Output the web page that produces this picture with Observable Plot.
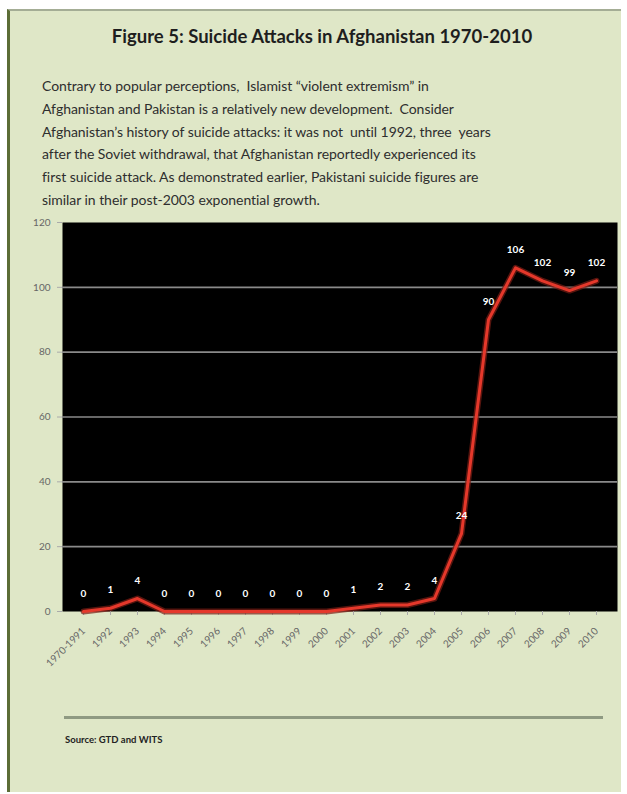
<!DOCTYPE html>
<html>
<head>
<meta charset="utf-8">
<script src="https://cdn.jsdelivr.net/npm/d3@7"></script>
<script src="https://cdn.jsdelivr.net/npm/@observablehq/plot@0.6"></script>
<style>
  html, body { margin: 0; padding: 0; background: #ffffff; }
  #page { position: relative; width: 627px; height: 794px; overflow: hidden; font-family: Lato, "Open Sans", sans-serif; }
  #box { position: absolute; left: 7px; top: 9px; width: 614px; height: 783px; background: #dfe7c7;
         border-left: 3px solid #5c6d36; border-top: 2px solid #a4ad95; box-sizing: border-box; }
  #title { position: absolute; left: 0; top: 25px; width: 644px; text-align: center; font-weight: bold;
           font-size: 18.5px; color: #1e1e1e; letter-spacing: 0px; }
  #para { position: absolute; left: 42px; top: 75px; width: 560px; font-size: 14px; line-height: 22.8px; color: #2e2e2e; letter-spacing: -0.05px; }
  #chart { position: absolute; left: 0; top: 205px; }
  #rule { position: absolute; left: 64px; top: 716px; width: 539px; height: 3px; background: #8f9a82; }
  #source { position: absolute; left: 65px; top: 734px; font-size: 9.5px; font-weight: bold; color: #222; }
</style>
</head>
<body>
<div id="page">
  <div id="box"></div>
  <div id="title">Figure 5: Suicide Attacks in Afghanistan 1970-2010</div>
  <div id="para">Contrary to popular perceptions,&nbsp; Islamist “violent extremism” in<br>Afghanistan and Pakistan is a relatively new development.&nbsp; Consider<br>Afghanistan’s history of suicide attacks: it was not&nbsp; until 1992, three&nbsp; years<br>after the Soviet withdrawal, that Afghanistan reportedly experienced its<br>first suicide attack. As demonstrated earlier, Pakistani suicide figures are<br>similar in their post-2003 exponential growth.</div>
  <div id="chart"></div>
  <div id="rule"></div>
  <div id="source">Source: GTD and WITS</div>
</div>
<script>
const years = ["1970-1991","1992","1993","1994","1995","1996","1997","1998","1999","2000",
               "2001","2002","2003","2004","2005","2006","2007","2008","2009","2010"];
const attacks = [0,1,4,0,0,0,0,0,0,0,1,2,2,4,24,90,106,102,99,102];
const yTicks = [0,20,40,60,80,100,120];
const gridValues = [20,40,60,80,100];

const data = years.map((y, i) => ({year: y, value: attacks[i]}));

const chart = Plot.plot({
  width: 627,
  height: 480,
  marginLeft: 62,
  marginRight: 10,
  marginTop: 17,
  marginBottom: 74,
  style: {background: "transparent", fontFamily: "Lato, 'Open Sans', sans-serif"},
  x: {type: "point", domain: years, padding: 0.5, label: null},
  y: {domain: [0, 120], label: null},
  marks: [
    Plot.frame({fill: "black", stroke: "none"}),
    Plot.ruleY(gridValues, {stroke: "#8a8a8a", strokeWidth: 1.6}),
    Plot.axisY({ticks: yTicks, tickSize: 5, tickPadding: 7, fontSize: 10, color: "#666", stroke: "#aaa", label: null}),
    Plot.axisX({tickRotate: -45, tickSize: 4, tickPadding: 14, fontSize: 10, color: "#666", stroke: "#aaa", label: null}),
    Plot.line(data, {x: "year", y: "value", stroke: "#7a1c14", strokeOpacity: 0.7, strokeWidth: 6, strokeLinejoin: "round", curve: "linear"}),
    Plot.line(data, {x: "year", y: "value", stroke: "#e5382b", strokeWidth: 3, strokeLinejoin: "round", curve: "linear"}),
    Plot.text(data, {x: "year", y: "value", text: d => String(d.value), dy: -18, fill: "white", fontWeight: "bold", fontSize: 10})
  ]
});
document.getElementById("chart").appendChild(chart);
</script>
</body>
</html>
